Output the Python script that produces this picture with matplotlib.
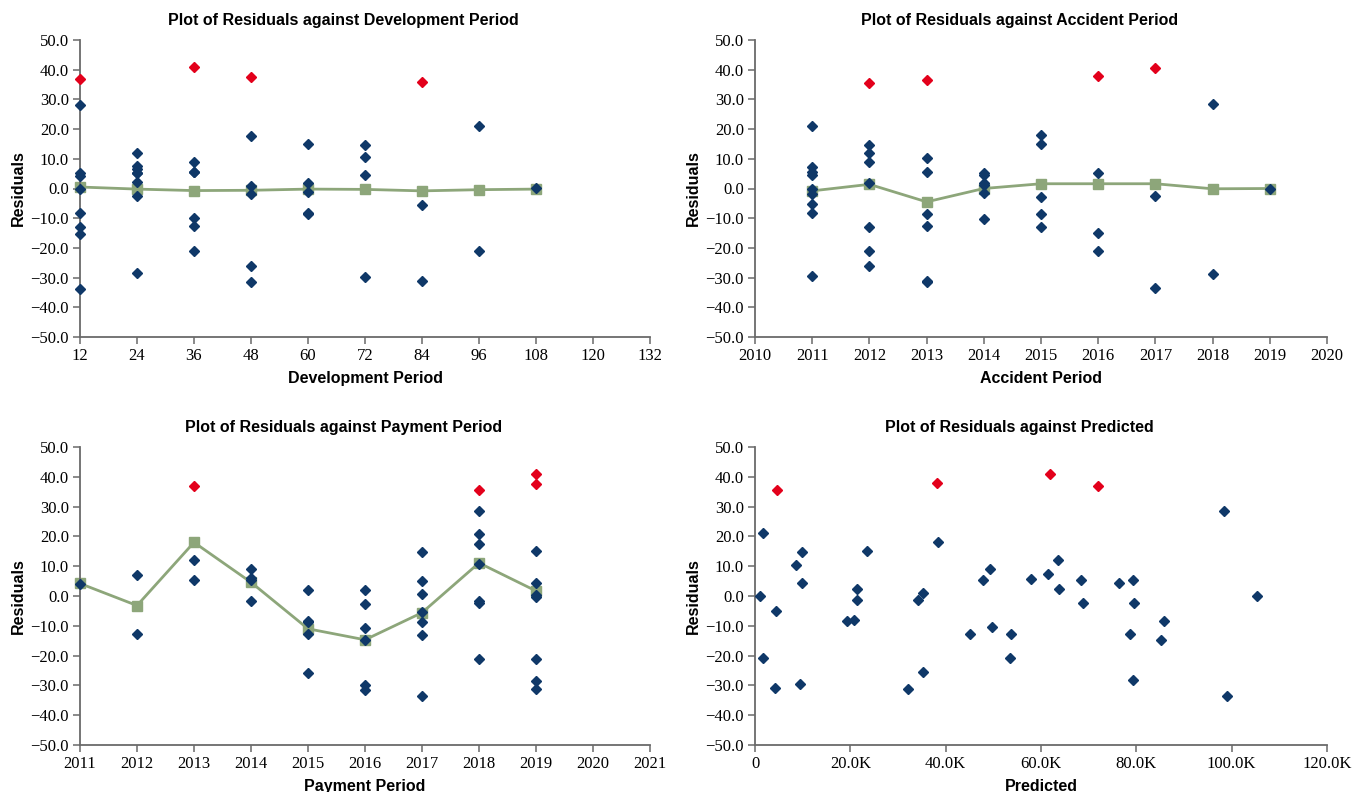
import matplotlib
matplotlib.use("Agg")
import matplotlib.pyplot as plt
from matplotlib.ticker import FuncFormatter, MultipleLocator
from matplotlib import font_manager

# ---------------- data ----------------
# Residuals against Development Period
dev_periods = [12, 24, 36, 48, 60, 72, 84, 96, 108]
dev_resid = [
    [28.2, 5.1, 4.3, 0.0, -8.3, -12.9, -15.2, -33.7],
    [12.1, 7.5, 6.4, 5.3, 5.3, 2.2, -2.5, -28.4],
    [9.0, 5.6, 5.6, -9.9, -12.7, -21.0],
    [17.6, 0.7, -1.7, -26.1, -31.5],
    [15.1, 1.9, -1.3, -8.4, -8.7],
    [14.7, 10.7, 4.5, -29.9],
    [-5.5, -31.2],
    [20.9, -21.2],
    [0.1],
]
dev_out_x = [12, 36, 48, 84]
dev_out_y = [36.9, 40.8, 37.6, 35.7]
dev_mean = [0.5, -0.2, -0.7, -0.6, -0.2, -0.3, -0.8, -0.4, -0.2]

# Residuals against Accident Period
acc_periods = [2011, 2012, 2013, 2014, 2015, 2016, 2017, 2018, 2019]
acc_resid = [
    [21.1, 7.1, 5.6, 4.5, 0.0, -1.7, -5.3, -8.2, -29.6],
    [14.6, 12.0, 8.8, 2.0, -13.0, -21.0, -26.0],
    [10.4, 5.6, -8.5, -12.7, -31.2, -31.4],
    [5.3, 4.7, 1.7, 1.1, -1.5, -10.4],
    [18.0, 15.0, -2.8, -8.5, -13.0],
    [5.3, -14.9, -21.0],
    [-2.4, -33.5],
    [28.4, -28.7],
    [0.0],
]
acc_out_x = [2012, 2013, 2016, 2017]
acc_out_y = [35.5, 36.7, 37.9, 40.7]
acc_mean = [-0.8, 1.4, -4.5, 0.0, 1.6, 1.6, 1.6, -0.1, 0.0]

# Residuals against Payment Period
pay_periods = [2011, 2012, 2013, 2014, 2015, 2016, 2017, 2018, 2019]
pay_resid = [
    [4.1],
    [7.1, -12.9],
    [12.2, 5.4],
    [9.0, 5.9, 5.4, -1.7],
    [1.9, -8.3, -8.6, -12.9, -26.0],
    [1.9, -2.6, -10.7, -14.8, -29.7, -31.4],
    [14.7, 5.2, 0.7, -5.3, -8.6, -13.1, -33.6],
    [28.5, 20.8, 17.6, 10.7, -1.7, -2.5, -21.2],
    [15.0, 4.5, 0.2, -0.2, -21.2, -28.5, -31.2],
]
pay_out_x = [2013, 2018, 2019, 2019]
pay_out_y = [36.9, 35.5, 40.8, 37.6]
pay_mean = [4.2, -3.2, 18.0, 4.6, -11.0, -14.7, -5.6, 11.1, 1.7]

# Residuals against Predicted (thousands)
pred_x = [1.75, 9.8, 8.7, 9.8, 1.0, 4.5, 1.75, 4.2, 9.4,
          19.4, 20.8, 21.5, 21.5, 23.4, 32.2, 34.2, 35.3, 35.3,
          38.4, 45.1, 47.8, 49.4, 49.7, 53.8, 53.4, 58.0,
          61.5, 63.5, 63.7, 68.4, 68.9, 76.3, 79.2, 79.6, 78.7,
          79.2, 85.8, 85.2, 98.4, 99.0, 105.4]
pred_y = [21.1, 14.8, 10.4, 4.5, 0.0, -5.2, -20.9, -30.9, -29.6,
          -8.4, -8.1, 2.4, -1.3, 15.2, -31.2, -1.3, 0.9, -25.6,
          18.0, -12.6, 5.4, 9.0, -10.3, -12.9, -20.9, 5.7,
          7.4, 12.2, 2.2, 5.5, -2.2, 4.5, 5.5, -2.2, -12.6,
          -28.3, -8.4, -14.8, 28.5, -33.5, 0.0]
pred_out_x = [4.6, 38.2, 61.9, 71.9]
pred_out_y = [35.6, 37.9, 40.9, 37.0]

titles = ["Plot of Residuals against Development Period",
          "Plot of Residuals against Accident Period",
          "Plot of Residuals against Payment Period",
          "Plot of Residuals against Predicted"]
xlabels = ["Development Period", "Accident Period", "Payment Period", "Predicted"]

# ---------------- style ----------------
BLUE = "#0F3868"
RED = "#E3001B"
GREEN = "#8DA67A"
AXC = "#6A6A6A"

avail = {f.name for f in font_manager.fontManager.ttflist}
SERIF = "Liberation Serif" if "Liberation Serif" in avail else "DejaVu Serif"
SANS = "Liberation Sans Narrow" if "Liberation Sans Narrow" in avail else "Liberation Sans"
plt.rcParams["font.family"] = "serif"
plt.rcParams["font.serif"] = [SERIF, "DejaVu Serif"]

fig = plt.figure(figsize=(13.53, 7.92), dpi=100)
W, H = 1353, 792
boxes = [(80, 40, 650, 337), (755, 40, 1327, 337),
         (80, 447, 650, 745), (755, 447, 1327, 745)]
axes = []
for (x0, y0, x1, y1) in boxes:
    ax = fig.add_axes([x0 / W, 1 - y1 / H, (x1 - x0) / W, (y1 - y0) / H])
    axes.append(ax)


def style(ax, title, xlabel):
    for s in ("top", "right"):
        ax.spines[s].set_visible(False)
    for s in ("left", "bottom"):
        ax.spines[s].set_color(AXC)
        ax.spines[s].set_linewidth(1.3)
    ax.set_ylim(-50, 50)
    ax.yaxis.set_major_locator(MultipleLocator(10))
    ax.yaxis.set_major_formatter(FuncFormatter(lambda v, p: f"{v:.1f}".replace("-", "\u2212")))
    ax.tick_params(axis="both", direction="out", length=5, width=1.1, color=AXC,
                   labelsize=12, pad=3)
    ax.set_title(title, fontfamily=SANS, fontweight="bold", fontsize=11.5, pad=11,
                 x=0.462)
    ax.set_xlabel(xlabel, fontfamily=SANS, fontweight="bold", fontsize=11.5, labelpad=5)
    ax.set_ylabel("Residuals", fontfamily=SANS, fontweight="bold", fontsize=11.5, labelpad=3)


def panel(ax, cats, groups, ox, oy, means):
    ax.plot(cats, means, color=GREEN, lw=2, marker="s", ms=7, mfc=GREEN, mec=GREEN,
            zorder=2, clip_on=False)
    xs, ys = [], []
    for c, g in zip(cats, groups):
        xs += [c] * len(g)
        ys += g
    ax.plot(xs, ys, ls="none", marker="D", ms=5.5, color=BLUE, zorder=3, clip_on=False)
    ax.plot(ox, oy, ls="none", marker="D", ms=5.5, color=RED, zorder=3, clip_on=False)


ax = axes[0]
panel(ax, dev_periods, dev_resid, dev_out_x, dev_out_y, dev_mean)
ax.set_xlim(12, 132)
ax.set_xticks(range(12, 133, 12))
style(ax, titles[0], xlabels[0])

ax = axes[1]
panel(ax, acc_periods, acc_resid, acc_out_x, acc_out_y, acc_mean)
ax.set_xlim(2010, 2020)
ax.set_xticks(range(2010, 2021))
style(ax, titles[1], xlabels[1])

ax = axes[2]
panel(ax, pay_periods, pay_resid, pay_out_x, pay_out_y, pay_mean)
ax.set_xlim(2011, 2021)
ax.set_xticks(range(2011, 2022))
style(ax, titles[2], xlabels[2])

ax = axes[3]
ax.plot(pred_x, pred_y, ls="none", marker="D", ms=5.5, color=BLUE, zorder=3, clip_on=False)
ax.plot(pred_out_x, pred_out_y, ls="none", marker="D", ms=5.5, color=RED, zorder=3, clip_on=False)
ax.set_xlim(0, 120)
ax.set_xticks(range(0, 121, 20))
ax.xaxis.set_major_formatter(FuncFormatter(lambda v, p: "0" if v == 0 else f"{v:.1f}K"))
style(ax, titles[3], xlabels[3])

fig.savefig("out.png", dpi=100)
